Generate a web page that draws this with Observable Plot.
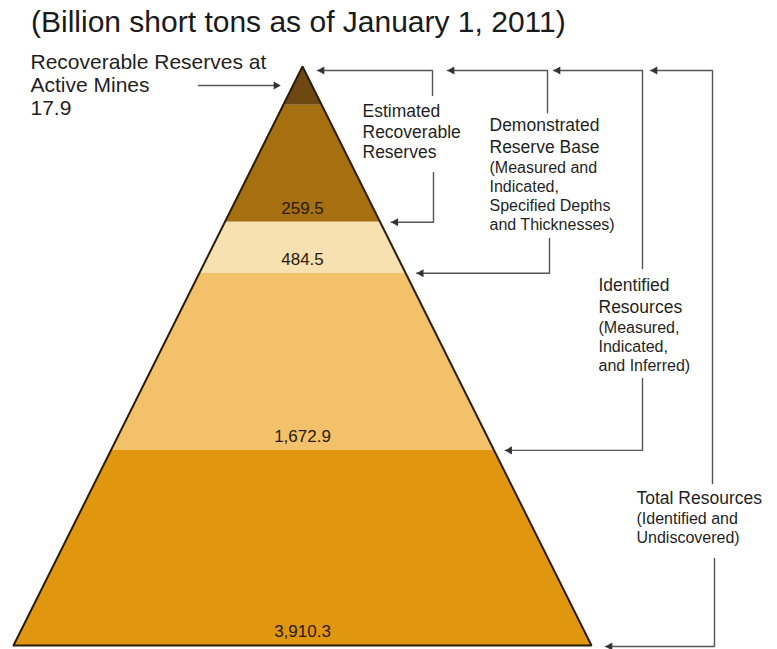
<!DOCTYPE html>
<html>
<head>
<meta charset="utf-8">
<script src="https://cdn.jsdelivr.net/npm/d3@7"></script>
<script src="https://cdn.jsdelivr.net/npm/@observablehq/plot@0.6"></script>
<style>
  html, body { margin: 0; padding: 0; background: #fff; }
  #title {
    box-sizing: border-box; height: 46px; padding: 7px 0 0 31px;
    font-family: "Liberation Sans", Arial, sans-serif; font-size: 30px; line-height: 1;
    color: #1a1a1a; white-space: nowrap;
  }
  #chart svg { display: block; }
</style>
</head>
<body>
<div id="title">(Billion short tons as of January 1, 2011)</div>
<div id="chart"></div>
<script>
// ---- data ----
const tierNames = [
  "Recoverable Reserves at Active Mines",
  "Estimated Recoverable Reserves",
  "Demonstrated Reserve Base",
  "Identified Resources",
  "Total Resources"
];
const tierValues = [17.9, 259.5, 484.5, 1672.9, 3910.3];
// schematic bottom edge of each pyramid layer, as a fraction of the pyramid height
const tierBottoms = [0.067, 0.269, 0.357, 0.663, 1.0];

// annotation texts
const leftLabel = ["Recoverable Reserves at", "Active Mines"];
const estLabel = ["Estimated", "Recoverable", "Reserves"];
const demLabel = ["Demonstrated", "Reserve Base"];
const demNote = ["(Measured and", "Indicated,", "Specified Depths", "and Thicknesses)"];
const idLabel = ["Identified", "Resources"];
const idNote = ["(Measured,", "Indicated,", "and Inferred)"];
const totLabel = ["Total Resources"];
const totNote = ["(Identified and", "Undiscovered)"];

// ---- styles ----
const tierColors = ["#6e4813", "#a66f10", "#f7e1b0", "#f2c16a", "#e0960e"];
const FONT = "'Liberation Sans', Arial, sans-serif";
const TEXT = "#1f1f1f";
const CONN = "#555555";

// layout helpers: convert page-pixel layout positions for annotations into scale units
const TOP = 46;                  // title block height
const X = px => (px - 302) / 289;
const Y = py => (py - 66) / 579;
const fmt = d3.format(",.1f");
const gap = 11 / 289;

// pyramid layers
const pyr = tierNames.flatMap((t, i) => {
  const top = i ? tierBottoms[i - 1] : 0, bot = tierBottoms[i];
  return [{tier: t, d: top}, {tier: t, d: bot}];
});

function lines(arr, x, ys, size) {
  return Plot.text(arr.map((t, i) => ({t, x, y: ys[i]})), {
    x: "x", y: "y", text: "t", textAnchor: "start", lineAnchor: "middle",
    fontSize: size, fill: TEXT
  });
}

// connectors (brackets); lower tips tied to the layer edges
const tip = i => ({x: tierBottoms[i] + gap, y: tierBottoms[i]});
const conns = [
  {id: "left", pts: [[X(198), Y(85)], [X(278), Y(85)]]},
  {id: "e1", pts: [[X(317), Y(70)], [X(432), Y(70)], [X(432), Y(95)]]},
  {id: "e2", pts: [[X(433), Y(172)], [X(433), tierBottoms[1]], [tip(1).x, tip(1).y]]},
  {id: "d1", pts: [[X(447), Y(70)], [X(547), Y(70)], [X(547), Y(112)]]},
  {id: "d2", pts: [[X(549), Y(238)], [X(549), tierBottoms[2]], [tip(2).x, tip(2).y]]},
  {id: "i1", pts: [[X(553), Y(70)], [X(642), Y(70)], [X(642), Y(268)]]},
  {id: "i2", pts: [[X(642), Y(378)], [X(642), tierBottoms[3]], [tip(3).x, tip(3).y]]},
  {id: "t1", pts: [[X(650), Y(70)], [X(712), Y(70)], [X(712), Y(483)]]},
  {id: "t2", pts: [[X(714), Y(558)], [X(714), tierBottoms[4] + 1 / 579], [tip(4).x + 3 / 289, tierBottoms[4] + 1 / 579]]}
];
const connPts = conns.flatMap(c => c.pts.map(([x, y]) => ({id: c.id, x, y})));
const headsLeft = [
  {x: X(317), y: Y(70)}, {x: X(447), y: Y(70)}, {x: X(553), y: Y(70)}, {x: X(650), y: Y(70)},
  tip(1), tip(2), tip(3), {x: tip(4).x + 3 / 289, y: tierBottoms[4] + 1 / 579}
];
const headsRight = [{x: X(280), y: Y(85)}];

const plot = Plot.plot({
  width: 777,
  height: 649 - TOP,
  margin: 0,
  style: {fontFamily: FONT, background: "#fff"},
  x: {domain: [-1, 1], range: [13, 591], axis: null},
  y: {domain: [0, 1], range: [66 - TOP, 645 - TOP], axis: null},
  color: {type: "ordinal", domain: tierNames, range: tierColors},
  marks: [
    Plot.areaX(pyr, {y: "d", x1: p => -p.d, x2: p => p.d, z: "tier", fill: "tier"}),
    Plot.line([{x: -1, y: 1}, {x: 0, y: 0}, {x: 1, y: 1}, {x: -1, y: 1}],
      {x: "x", y: "y", stroke: "#2b1d0a", strokeWidth: 2, strokeLinejoin: "miter"}),
    // values inside the layers
    Plot.text(tierValues.map((v, i) => ({v, i})).slice(1), {
      x: 0, y: d => tierBottoms[d.i], dy: -14, text: d => fmt(d.v),
      fontSize: 17, fill: "#2a1a05", lineAnchor: "middle"
    }),
    // connectors
    Plot.line(connPts, {x: "x", y: "y", z: "id", stroke: CONN, strokeWidth: 1.4, curve: "linear", strokeLinejoin: "miter"}),
    Plot.dot(headsLeft, {x: "x", y: "y", symbol: "triangle", r: 3, rotate: -90, dx: 4.5, fill: "#333", stroke: null}),
    Plot.dot(headsRight, {x: "x", y: "y", symbol: "triangle", r: 3, rotate: 90, dx: -4.5, fill: "#333", stroke: null}),
    // left annotation
    lines([...leftLabel, fmt(tierValues[0])], X(30), [Y(62), Y(85), Y(108)], 21),
    // right annotations
    lines(estLabel, X(362), [Y(111), Y(132), Y(152)], 17.5),
    lines(demLabel, X(489), [Y(125), Y(147)], 17.5),
    lines(demNote, X(489), [Y(167), Y(186), Y(205), Y(224)], 16),
    lines(idLabel, X(598), [Y(285), Y(307)], 17.5),
    lines(idNote, X(598), [Y(327), Y(346), Y(365)], 16),
    lines(totLabel, X(636), [Y(498)], 17.5),
    lines(totNote, X(636), [Y(518), Y(537)], 16)
  ]
});
document.getElementById("chart").append(plot);
</script>
</body>
</html>
